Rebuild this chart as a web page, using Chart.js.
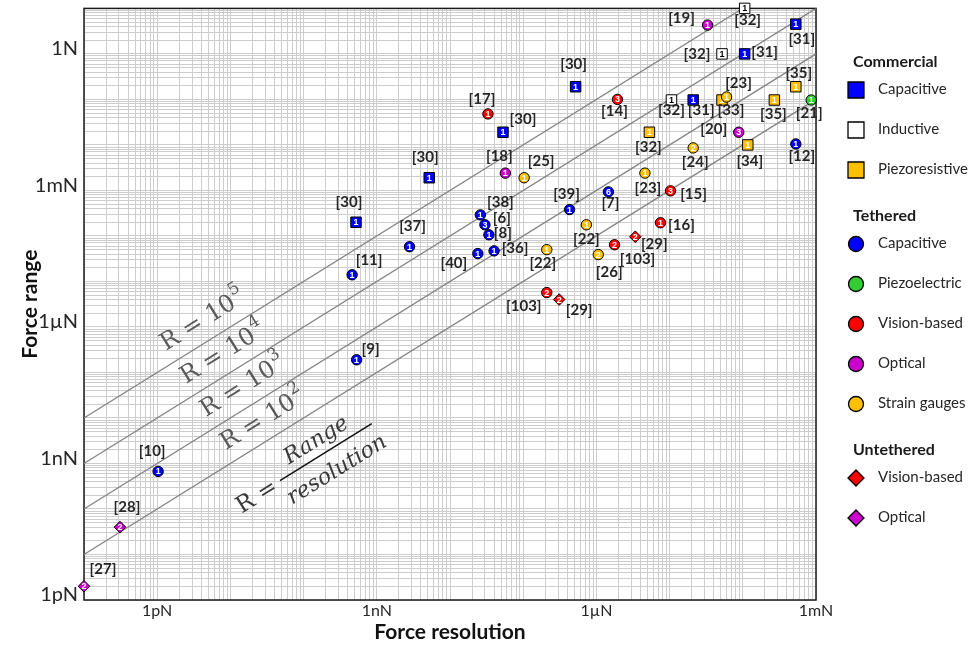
<!DOCTYPE html>
<html>
<head>
<meta charset="utf-8">
<title>Force range vs force resolution</title>
<script src="https://cdn.jsdelivr.net/npm/chart.js@4.4.1/dist/chart.umd.min.js"></script>
<style>
  html, body { margin: 0; padding: 0; background: #fff; }
  #wrap { width: 978px; height: 648px; }
</style>
</head>
<body>
<div id="wrap"><canvas id="FORCE_CHART" width="978" height="648"></canvas></div>
<script>
// legend groups and the series inside them
const groupNames = ['Commercial', 'Tethered', 'Untethered'];
const seriesGroup = [0, 0, 0, 1, 1, 1, 1, 1, 2, 2];
const seriesNames = ['Capacitive', 'Inductive', 'Piezoresistive',
    'Capacitive', 'Piezoelectric', 'Vision-based', 'Optical', 'Strain gauges',
    'Vision-based', 'Optical'];

// one entry per sensor: series index, resolution (N), range (N), reference, number in the marker
const pointSeries = [0, 0, 0, 0, 0, 0, 0,
    1, 1, 1,
    2, 2, 2, 2, 2,
    3, 3, 3, 3, 3, 3, 3, 3, 3, 3, 3, 3,
    4,
    5, 5, 5, 5, 5, 5,
    6, 6, 6,
    7, 7, 7, 7, 7, 7, 7,
    8, 8,
    9, 9];
const resolution = [5.2e-10, 5.2e-9, 5.3e-8, 5.2e-7, 2.1e-5, 1.06e-4, 5.3e-4,
    1.06e-4, 5.2e-5, 1.06e-5,
    5.3e-6, 1.17e-4, 2.7e-4, 5.3e-4, 5.2e-5,
    4.6e-10, 2.8e-9, 2.6e-8, 3.0e-8, 3.4e-8, 2.4e-8, 4.0e-8, 4.3e-7, 1.46e-6, 5.3e-4, 1.03e-12, 5.3e-10,
    8.6e-4,
    3.3e-8, 1.94e-6, 1.03e-5, 7.5e-6, 1.77e-6, 2.1e-7,
    3.3e-5, 5.7e-8, 8.8e-5,
    1.03e-7, 6.0e-5, 2.1e-5, 4.6e-6, 7.3e-7, 2.1e-7, 1.06e-6,
    3.4e-6, 3.1e-7,
    3.1e-13, 1.0e-13];
const range = [2.0e-4, 1.9e-3, 1.9e-2, 0.19, 0.097, 1.0, 4.5,
    10, 1.0, 0.097,
    1.9e-2, 1.0e-2, 0.097, 0.19, 0.097,
    1.4e-5, 5.8e-5, 2.9e-4, 1.76e-4, 1.06e-4, 4.1e-5, 4.7e-5, 3.8e-4, 9.3e-4, 1.05e-2, 6.7e-10, 1.9e-7,
    0.097,
    4.8e-2, 0.10, 9.8e-4, 1.95e-4, 6.4e-5, 5.7e-6,
    4.3, 2.4e-3, 1.9e-2,
    1.9e-3, 0.113, 8.6e-3, 2.4e-3, 1.76e-4, 5.0e-5, 3.9e-5,
    9.6e-5, 4.0e-6,
    4.0e-11, 2.0e-12];
const refs = ['[30]', '[30]', '[30]', '[30]', '[31]', '[31]', '[31]',
    '[32]', '[32]', '[32]',
    '[32]', '[34]', '[35]', '[35]', '[33]',
    '[11]', '[37]', '[38]', '[6]', '[8]', '[40]', '[36]', '[39]', '[7]', '[12]', '[10]', '[9]',
    '[21]',
    '[17]', '[14]', '[15]', '[16]', '[103]', '[103]',
    '[19]', '[18]', '[20]',
    '[25]', '[23]', '[24]', '[23]', '[22]', '[22]', '[26]',
    '[29]', '[29]',
    '[28]', '[27]'];
const counts = [1, 1, 1, 1, 1, 1, 1,
    1, 1, 1,
    1, 1, 1, 1, 1,
    1, 1, 1, 3, 1, 1, 1, 1, 6, 1, 1, 1,
    1,
    1, 3, 3, 1, 2, 2,
    1, 1, 3,
    1, 1, 2, 1, 1, 1, 2,
    2, 2,
    2, 2];

// ratio lines R = range / resolution
const ratios = [1e5, 1e4, 1e3, 1e2];

// axes
const xMin = 1e-13, xMax = 1e-3, yMin = 1e-12, yMax = 1e1;
const tickExps = [-12, -9, -6, -3, 0];
const tickNames = ['1pN', '1nN', '1\u00b5N', '1mN', '1N'];

// ---- styling ----
const seriesColors = ['#0000ff', '#ffffff', '#ffc000', '#0000ff', '#33cc33', '#ff0000', '#cc00cc', '#ffc000', '#ff0000', '#cc00cc'];
const groupShapes = ['rect', 'circle', 'rectRot'];
const groupRadius = [7.4, 5.2, 5.8];
const legendRadius = [11.3, 7.5, 8];
// where each [ref] label sits relative to its marker (px), same order as the points
const labelOffsets = [[-7, -20], [-4, -21], [20, -13], [-2, -23], [8, 10], [20, -2], [6, 15],
    [3, 12], [-25, 0], [0, 10],
    [-1, 15], [2, 16], [-1, 14], [3, -14], [9, 10],
    [17, -15], [3, -21], [20, -13], [17, -7], [14, -2], [-24, 10], [21, -3], [-3, -15], [2, 11], [6, 12], [-6, -20], [14, -11],
    [-2, 13],
    [-6, -15], [-3, 12], [23, 3], [21, 2], [23, 14], [-23, 14],
    [-26, -7], [-6, -17], [-25, -3],
    [17, -17], [12, -14], [2, 14], [3, 15], [0, 14], [-4, 14], [11, 18],
    [19, 7], [20, 11],
    [7, -20], [19, -17]];

Chart.defaults.font.family = 'Lato, "Open Sans", sans-serif';
Chart.defaults.color = '#262626';

const datasets = [];
ratios.forEach((r) => {
    datasets.push({
        type: 'line',
        data: [{x: xMin, y: r * xMin}, {x: xMax, y: r * xMax}],
        borderColor: '#858585',
        borderWidth: 1.3,
        pointRadius: 0,
        fill: false,
        order: 100
    });
});
seriesNames.forEach((name, s) => {
    const idx = [];
    pointSeries.forEach((p, i) => { if (p === s) idx.push(i); });
    const g = seriesGroup[s];
    datasets.push({
        type: 'scatter',
        label: groupNames[g] + ' ' + name,
        data: idx.map(i => ({x: resolution[i], y: range[i]})),
        refs: idx.map(i => refs[i]),
        counts: idx.map(i => counts[i]),
        offs: idx.map(i => labelOffsets[i]),
        pointStyle: groupShapes[g],
        pointRadius: groupRadius[g],
        backgroundColor: seriesColors[s],
        borderColor: '#000',
        borderWidth: 1,
        clip: false,
        order: g === 0 ? 10 : 5
    });
});

function logGrid(scale) {
    const lo = Math.round(Math.log10(scale.min));
    const hi = Math.round(Math.log10(scale.max));
    const ticks = [];
    for (let e = lo; e <= hi; e++) {
        for (let k = 1; k <= 9; k++) {
            const v = k * Math.pow(10, e);
            if (v <= scale.max * 1.000001) ticks.push({value: v});
        }
    }
    scale.ticks = ticks;
}

function tickLabel(v) {
    const l = Math.log10(v);
    const e = Math.round(l);
    if (Math.abs(l - e) > 1e-6) return '';
    const k = tickExps.indexOf(e);
    return k >= 0 ? tickNames[k] : '';
}

function drawMarker(ctx, shape, x, y, r, color) {
    ctx.beginPath();
    if (shape === 'rect') {
        const h = r * Math.SQRT1_2;
        ctx.rect(x - h, y - h, 2 * h, 2 * h);
    } else if (shape === 'circle') {
        ctx.arc(x, y, r, 0, Math.PI * 2);
    } else {
        ctx.moveTo(x, y - r);
        ctx.lineTo(x + r, y);
        ctx.lineTo(x, y + r);
        ctx.lineTo(x - r, y);
        ctx.closePath();
    }
    ctx.fillStyle = color;
    ctx.fill();
    ctx.lineWidth = 1.3;
    ctx.strokeStyle = '#000';
    ctx.stroke();
}

function drawRatioNotes(chart) {
    const ctx = chart.ctx;
    const xs = chart.scales.x, ys = chart.scales.y;
    const lineY = (r, px) => ys.getPixelForValue(r * xs.getValueForPixel(px));
    const ang = Math.atan2(lineY(ratios[0], 100) - lineY(ratios[0], 200), 100);
    ctx.save();
    ctx.fillStyle = '#5a5a5a';
    ratios.forEach((r, i) => {
        const px = 166 + 20 * i;
        ctx.save();
        ctx.translate(px, lineY(r, px) - 16);
        ctx.rotate(-ang);
        ctx.textAlign = 'left';
        ctx.textBaseline = 'alphabetic';
        ctx.font = '24px "DejaVu Serif"';
        ctx.fillText('R = 10', 0, 0);
        const w = ctx.measureText('R = 10').width;
        ctx.font = '17px "DejaVu Serif"';
        ctx.fillText(String(Math.round(Math.log10(r))), w + 1, -12);
        ctx.restore();
    });
    const last = ratios[ratios.length - 1];
    ctx.translate(280, lineY(last, 280) + 48);
    ctx.rotate(-ang);
    ctx.strokeStyle = '#111';
    ctx.lineWidth = 1.5;
    ctx.beginPath();
    ctx.moveTo(0, 0);
    ctx.lineTo(108, 0);
    ctx.stroke();
    ctx.fillStyle = '#3a3a3a';
    ctx.font = 'italic 22px "DejaVu Serif"';
    ctx.textAlign = 'center';
    ctx.textBaseline = 'alphabetic';
    ctx.fillText('Range', 52, -9);
    ctx.fillText('resolution', 54, 27);
    ctx.font = '23px "DejaVu Serif"';
    ctx.textAlign = 'right';
    ctx.textBaseline = 'middle';
    ctx.fillText('R =', -6, 2);
    ctx.restore();
}

const markPlugin = {
    id: 'marks',
    beforeDatasetsDraw(chart) {
        const {ctx, chartArea: a} = chart;
        ctx.save();
        ctx.strokeStyle = '#1a1a1a';
        ctx.lineWidth = 1.5;
        ctx.strokeRect(a.left, a.top, a.right - a.left, a.bottom - a.top);
        ctx.restore();
        drawRatioNotes(chart);
    },
    afterDatasetDraw(chart, args) {
        const ds = chart.data.datasets[args.index];
        if (!ds.counts) return;
        const ctx = chart.ctx;
        ctx.save();
        ctx.font = 'bold 9px "Liberation Sans"';
        ctx.textAlign = 'center';
        ctx.textBaseline = 'middle';
        ctx.fillStyle = ds.backgroundColor === '#ffffff' ? '#000' : '#fff';
        args.meta.data.forEach((el, j) => {
            ctx.fillText(String(ds.counts[j]), el.x, el.y + 0.5);
        });
        ctx.restore();
    },
    afterDatasetsDraw(chart) {
        const ctx = chart.ctx;
        ctx.save();
        ctx.font = 'bold 15px Lato';
        ctx.fillStyle = '#262626';
        ctx.textAlign = 'center';
        ctx.textBaseline = 'middle';
        chart.data.datasets.forEach((ds, di) => {
            if (!ds.refs) return;
            chart.getDatasetMeta(di).data.forEach((el, j) => {
                ctx.fillText(ds.refs[j], el.x + ds.offs[j][0], el.y + ds.offs[j][1]);
            });
        });
        ctx.restore();
    },
    afterDraw(chart) {
        const ctx = chart.ctx;
        ctx.save();
        ctx.textAlign = 'left';
        ctx.textBaseline = 'middle';
        let y = 62;
        groupNames.forEach((g, gi) => {
            ctx.font = 'bold 16px Lato';
            ctx.fillStyle = '#1a1a1a';
            ctx.fillText(g, 853, y);
            y += 28;
            seriesNames.forEach((n, s) => {
                if (seriesGroup[s] !== gi) return;
                drawMarker(ctx, groupShapes[gi], 856, y, legendRadius[gi], seriesColors[s]);
                ctx.font = '15px Lato';
                ctx.fillStyle = '#262626';
                ctx.fillText(n, 878, y - 1);
                y += 40;
            });
            y += 6;
        });
        ctx.restore();
    }
};

function noPad(scale) {
    scale.paddingTop = 0;
    scale.paddingBottom = 0;
    scale.paddingLeft = 0;
    scale.paddingRight = 0;
}

const forceChart = new Chart(document.getElementById('FORCE_CHART').getContext('2d'), {
    type: 'scatter',
    data: {datasets: datasets},
    options: {
        responsive: false,
        animation: false,
        devicePixelRatio: 1,
        layout: {padding: {left: 0, top: 7, right: 162, bottom: 0}},
        plugins: {legend: {display: false}, tooltip: {enabled: false}},
        scales: {
            x: {
                type: 'logarithmic',
                min: xMin,
                max: xMax,
                afterBuildTicks: logGrid,
                afterFit: (scale) => { scale.height = 48; noPad(scale); },
                grid: {color: '#cdcdcd', lineWidth: 1, drawTicks: false},
                border: {display: false},
                ticks: {autoSkip: false, maxRotation: 0, padding: 1, font: {size: 16}, callback: tickLabel},
                title: {display: true, text: 'Force resolution', font: {size: 21, weight: 'bold'}, color: '#111', padding: {top: 0, bottom: 3}}
            },
            y: {
                type: 'logarithmic',
                min: yMin,
                max: yMax,
                afterBuildTicks: logGrid,
                afterFit: (scale) => { scale.width = 84; noPad(scale); },
                grid: {color: '#cdcdcd', lineWidth: 1, drawTicks: false},
                border: {display: false},
                ticks: {autoSkip: false, padding: 6, labelOffset: -5, font: {size: 20}, callback: tickLabel},
                title: {display: true, text: 'Force range', font: {size: 21, weight: 'bold'}, color: '#111', padding: {top: 18, bottom: 0}}
            }
        }
    },
    plugins: [markPlugin]
});
</script>
</body>
</html>
